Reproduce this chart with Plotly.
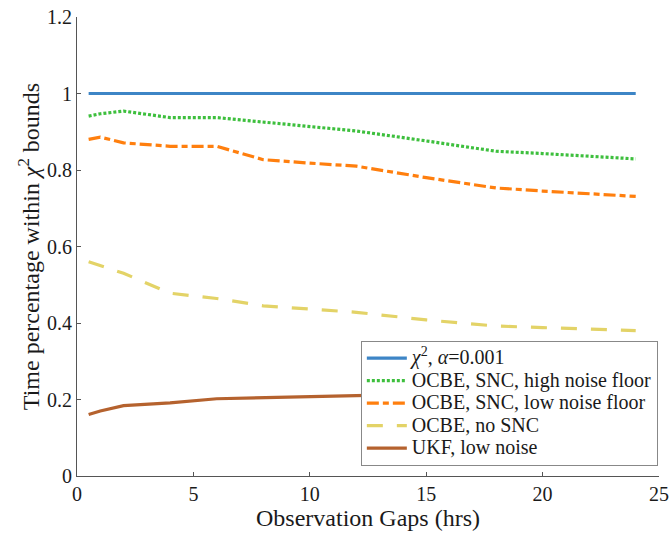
import plotly.graph_objects as go

gaps = [0.5, 1, 2, 4, 6, 8, 10, 12, 15, 18, 20, 24]
chi2_bound = [1.0] * len(gaps)
ocbe_snc_high = [0.941, 0.947, 0.954, 0.937, 0.937, 0.926, 0.915, 0.902, 0.876, 0.849, 0.843, 0.829]
ocbe_snc_low = [0.880, 0.886, 0.871, 0.862, 0.862, 0.827, 0.818, 0.810, 0.780, 0.753, 0.745, 0.731]
ocbe_no_snc = [0.560, 0.550, 0.530, 0.478, 0.464, 0.445, 0.436, 0.428, 0.408, 0.392, 0.388, 0.380]
ukf_low = [0.161, 0.170, 0.184, 0.191, 0.202, 0.204, 0.207, 0.210, 0.214, 0.217, 0.218, 0.220]

names = ["<i>χ</i><sup>2</sup>, <i>α</i>=0.001",
         "OCBE, SNC, high noise floor",
         "OCBE, SNC, low noise floor",
         "OCBE, no SNC",
         "UKF, low noise"]

FONT = "Liberation Serif, Times New Roman, serif"


def legend_label(s):
    return '<span style="font-size:20px">' + s + "</span>"


fig = go.Figure()
fig.add_trace(go.Scatter(x=gaps, y=chi2_bound, mode="lines", name=legend_label(names[0]),
                         line=dict(color="#3D85C6", width=3.2)))
fig.add_trace(go.Scatter(x=gaps, y=ocbe_snc_high, mode="lines", name=legend_label(names[1]),
                         line=dict(color="#3DBF3D", width=3.2, dash="3px,2px")))
fig.add_trace(go.Scatter(x=gaps, y=ocbe_snc_low, mode="lines", name=legend_label(names[2]),
                         line=dict(color="#FF7F0E", width=3.2, dash="12px,4px,6px,4px")))
fig.add_trace(go.Scatter(x=gaps, y=ocbe_no_snc, mode="lines", name=legend_label(names[3]),
                         line=dict(color="#E3D367", width=3.2, dash="16px,14px")))
fig.add_trace(go.Scatter(x=gaps, y=ukf_low, mode="lines", name=legend_label(names[4]),
                         line=dict(color="#B5622E", width=3.2)))

axis_common = dict(showline=True, linecolor="#555555", linewidth=1, ticks="inside",
                   ticklen=4, tickcolor="#555555", showgrid=False, zeroline=False,
                   tickfont=dict(family=FONT, size=20, color="#1a1a1a"),
                   mirror=False, automargin=False)

fig.update_layout(
    width=670, height=537,
    margin=dict(l=77, r=11, t=17, b=61),
    paper_bgcolor="white", plot_bgcolor="white",
    font=dict(family=FONT, color="#1a1a1a"),
    xaxis=dict(range=[0, 25], tickvals=[0, 5, 10, 15, 20, 25],
               title=dict(text="Observation Gaps (hrs)", font=dict(family=FONT, size=24), standoff=2),
               **axis_common),
    yaxis=dict(range=[0, 1.2], tickvals=[0, 0.2, 0.4, 0.6, 0.8, 1.0, 1.2],
               ticktext=["0", "0.2", "0.4", "0.6", "0.8", "1", "1.2"],
               title=dict(text="Time percentage within <i>χ</i><sup>2</sup> bounds",
                          font=dict(family=FONT, size=24), standoff=0),
               **axis_common),
    legend=dict(x=0.998, y=0.022, xanchor="right", yanchor="bottom",
                bgcolor="white", bordercolor="#888888", borderwidth=1,
                font=dict(family=FONT, size=15, color="#1a1a1a"),
                tracegroupgap=0, itemwidth=40),
    showlegend=True,
)

fig.write_html("out.html")
